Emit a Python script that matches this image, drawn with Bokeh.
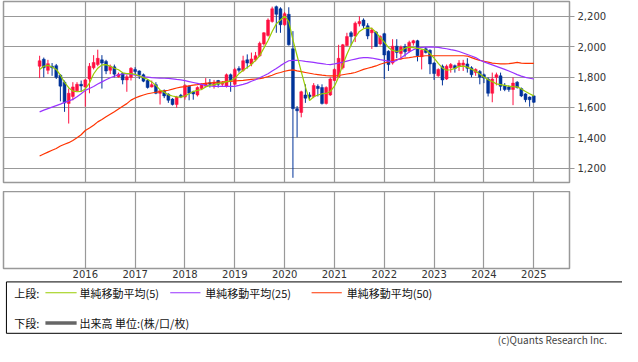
from bokeh.plotting import figure
from bokeh.layouts import column
from bokeh.models import Range1d, FixedTicker, ColumnDataSource, NumeralTickFormatter
from bokeh.embed import file_html
from bokeh.resources import INLINE
from bokeh.core.properties import value

# ---------------- data (monthly, Feb 2015 .. Jan 2025) ----------------
year_labels = ["2016", "2017", "2018", "2019", "2020", "2021", "2022", "2023", "2024", "2025"]
year_pos = [11, 23, 35, 47, 59, 71, 83, 95, 107, 119]   # month index of January
price_ticks = [1200, 1400, 1600, 1800, 2000, 2200]

opens = [1871, 1917, 1844, 1871, 1875, 1812, 1766, 1626, 1672, 1710,
         1752, 1735, 1787, 1861, 1882, 1913, 1903, 1844, 1867, 1802,
         1823, 1781, 1798, 1850, 1840, 1815, 1777, 1735, 1750, 1693,
         1710, 1687, 1655, 1619, 1680, 1668, 1739, 1703, 1682, 1724,
         1739, 1762, 1745, 1777, 1752, 1739, 1815, 1752, 1856, 1844,
         1913, 1886, 1913, 1940, 2018, 2074, 2165, 2263, 2249, 2144,
         2213, 1986, 1592, 1567, 1682, 1682, 1672, 1739, 1731, 1626,
         1682, 1777, 1798, 1861, 2007, 2091, 2070, 2150, 2175, 2137,
         2091, 2096, 2018, 2085, 1970, 1892, 2003, 1955, 2001, 1970,
         2024, 2039, 1934, 1986, 1976, 1892, 1808, 1871, 1787, 1861,
         1875, 1871, 1878, 1886, 1861, 1829, 1836, 1815, 1787, 1693,
         1798, 1808, 1745, 1735, 1718, 1766, 1724, 1689, 1668, 1676]
highs = [1940, 1928, 1913, 1892, 1886, 1819, 1777, 1724, 1766, 1766,
         1777, 1787, 1892, 1944, 1980, 1944, 1913, 1882, 1882, 1829,
         1829, 1815, 1865, 1865, 1844, 1823, 1787, 1777, 1766, 1714,
         1718, 1693, 1661, 1676, 1689, 1752, 1745, 1710, 1739, 1760,
         1793, 1787, 1781, 1781, 1773, 1823, 1823, 1861, 1871, 1940,
         1949, 1961, 1965, 2033, 2095, 2186, 2263, 2270, 2259, 2228,
         2259, 2102, 1609, 1710, 1752, 1700, 1760, 1752, 1752, 1739,
         1798, 1857, 2012, 2018, 2091, 2102, 2165, 2200, 2186, 2154,
         2125, 2102, 2075, 2091, 1976, 2049, 2049, 2007, 2018, 2039,
         2045, 2045, 1982, 1997, 1982, 1898, 1857, 1882, 1882, 1892,
         1882, 1911, 1913, 1924, 1871, 1857, 1846, 1823, 1798, 1829,
         1829, 1829, 1760, 1745, 1798, 1773, 1731, 1693, 1672, 1680]
lows = [1793, 1798, 1819, 1808, 1787, 1640, 1571, 1494, 1647, 1703,
        1703, 1605, 1693, 1850, 1871, 1724, 1819, 1819, 1798, 1796,
        1752, 1703, 1777, 1815, 1787, 1766, 1724, 1731, 1687, 1619,
        1661, 1630, 1613, 1598, 1661, 1651, 1647, 1651, 1672, 1714,
        1735, 1731, 1724, 1731, 1739, 1731, 1703, 1745, 1829, 1835,
        1856, 1871, 1903, 1934, 2007, 2066, 2158, 2091, 2091, 2137,
        2007, 1137, 1403, 1535, 1630, 1655, 1661, 1672, 1619, 1619,
        1676, 1773, 1794, 1850, 2003, 2007, 2030, 2133, 2123, 2049,
        1985, 1997, 2007, 1787, 1840, 1882, 1924, 1913, 1934, 1961,
        2007, 1903, 1850, 1955, 1819, 1781, 1802, 1745, 1781, 1829,
        1829, 1840, 1840, 1829, 1798, 1808, 1752, 1760, 1672, 1634,
        1745, 1710, 1707, 1703, 1615, 1724, 1668, 1634, 1605, 1630]
closes = [1907, 1861, 1888, 1861, 1798, 1740, 1630, 1693, 1735, 1752,
          1741, 1781, 1871, 1896, 1923, 1892, 1840, 1871, 1819, 1819,
          1781, 1802, 1857, 1836, 1815, 1773, 1731, 1750, 1693, 1710,
          1676, 1647, 1619, 1668, 1668, 1745, 1693, 1689, 1731, 1752,
          1760, 1752, 1766, 1752, 1762, 1815, 1777, 1850, 1844, 1907,
          1892, 1919, 1940, 2022, 2091, 2175, 2249, 2213, 2144, 2217,
          2012, 1592, 1578, 1703, 1661, 1670, 1745, 1724, 1626, 1731,
          1787, 1850, 1923, 2012, 2066, 2066, 2154, 2165, 2137, 2070,
          2110, 2001, 2066, 1945, 1882, 2003, 1961, 1997, 1966, 2028,
          2039, 1940, 1976, 1961, 1886, 1823, 1850, 1781, 1871, 1882,
          1857, 1892, 1892, 1857, 1815, 1850, 1798, 1794, 1693, 1787,
          1815, 1739, 1718, 1718, 1760, 1731, 1676, 1651, 1651, 1634]

ma5 = [1850, 1871, 1877, 1866, 1850, 1812, 1765, 1730, 1707, 1703,
       1705, 1722, 1760, 1820, 1858, 1880, 1882, 1871, 1858, 1848,
       1828, 1822, 1823, 1817, 1808, 1796, 1785, 1768, 1745, 1715,
       1700, 1683, 1675, 1670, 1668, 1675, 1690, 1705, 1712, 1718,
       1735, 1745, 1750, 1757, 1762, 1770, 1775, 1790, 1822, 1845,
       1862, 1884, 1910, 1940, 1990, 2040, 2100, 2150, 2175, 2200,
       2165, 2045, 1940, 1835, 1735, 1645, 1670, 1682, 1690, 1692,
       1705, 1740, 1800, 1880, 1950, 2010, 2060, 2100, 2118, 2123,
       2120, 2095, 2060, 2030, 1995, 1975, 1968, 1975, 1990, 1997,
       1994, 1988, 1984, 1978, 1955, 1925, 1890, 1860, 1845, 1848,
       1857, 1870, 1872, 1865, 1852, 1838, 1820, 1800, 1782, 1770,
       1755, 1750, 1745, 1740, 1737, 1735, 1722, 1705, 1690, 1676]
ma25 = [1571, 1582, 1592, 1602, 1612, 1622, 1633, 1642, 1653, 1670,
        1690, 1712, 1725, 1738, 1754, 1768, 1782, 1795, 1805, 1815,
        1820, 1822, 1819, 1812, 1806, 1802, 1799, 1796, 1794, 1793,
        1792, 1791, 1788, 1784, 1781, 1776, 1770, 1764, 1758, 1752,
        1745, 1741, 1739, 1739, 1739, 1739, 1739, 1739, 1745, 1752,
        1760, 1772, 1782, 1795, 1808, 1822, 1840, 1856, 1875, 1892,
        1907, 1910, 1910, 1907, 1903, 1900, 1896, 1892, 1888, 1884,
        1882, 1886, 1892, 1898, 1905, 1912, 1918, 1924, 1928, 1928,
        1925, 1920, 1914, 1910, 1905, 1900, 1910, 1925, 1945, 1965,
        1980, 1990, 1995, 1997, 1998, 1997, 1995, 1990, 1986, 1980,
        1975, 1968, 1958, 1948, 1938, 1928, 1912, 1900, 1890, 1880,
        1870, 1860, 1850, 1840, 1828, 1816, 1806, 1798, 1792, 1787]
ma50 = [1280, 1293, 1306, 1318, 1330, 1346, 1358, 1368, 1383, 1400,
        1420, 1448, 1465, 1483, 1505, 1520, 1538, 1555, 1572, 1590,
        1608, 1625, 1648, 1662, 1673, 1682, 1690, 1695, 1700, 1704,
        1709, 1713, 1720, 1728, 1733, 1737, 1742, 1747, 1750, 1755,
        1758, 1762, 1764, 1767, 1768, 1770, 1772, 1774, 1776, 1778,
        1781, 1784, 1787, 1790, 1795, 1803, 1812, 1823, 1830, 1838,
        1844, 1847, 1840, 1835, 1830, 1825, 1820, 1816, 1812, 1809,
        1807, 1808, 1810, 1815, 1820, 1824, 1830, 1840, 1850, 1858,
        1865, 1873, 1884, 1892, 1900, 1907, 1914, 1920, 1925, 1928,
        1932, 1935, 1938, 1940, 1940, 1940, 1940, 1940, 1940, 1940,
        1940, 1940, 1940, 1938, 1928, 1918, 1910, 1904, 1898, 1892,
        1889, 1886, 1886, 1888, 1892, 1896, 1892, 1890, 1890, 1890]

# ---------------- styling ----------------
RED = "#ff1040"
BLUE = "#003399"
GRID = "#999999"
JP = "Noto Sans CJK JP"

idx = list(range(len(opens)))
colors = [RED if c >= o else BLUE for o, c in zip(opens, closes)]
src = ColumnDataSource(dict(x=idx, o=opens, h=highs, l=lows, c=closes, col=colors,
                            m5=ma5, m25=ma25, m50=ma50))

xr = Range1d(-8.7, 127.6)

# ---------------- price panel ----------------
p = figure(frame_width=566, frame_height=181, x_range=xr, y_range=Range1d(1106, 2297),
           x_axis_location=None, y_axis_location="right", toolbar_location=None,
           output_backend="svg", min_border_left=3, min_border_right=53,
           min_border_top=1, min_border_bottom=9)
p.background_fill_color = "white"
p.border_fill_color = "white"
p.outline_line_color = GRID
p.outline_line_width = 1.5
p.xgrid.ticker = FixedTicker(ticks=year_pos)
p.ygrid.ticker = FixedTicker(ticks=price_ticks)
for g in (p.xgrid, p.ygrid):
    g.grid_line_color = GRID
    g.grid_line_width = 1.2
ax = p.yaxis[0]
ax.ticker = FixedTicker(ticks=price_ticks)
ax.formatter = NumeralTickFormatter(format="0,0")
ax.axis_line_color = None
ax.major_tick_in = 0
ax.major_tick_out = 5
ax.major_tick_line_color = GRID
ax.minor_tick_line_color = None
ax.major_label_standoff = 3
ax.major_label_text_font = "DejaVu Sans"
ax.major_label_text_font_size = "10px"
ax.major_label_text_color = "#333333"

p.segment(x0="x", y0="h", x1="x", y1="l", line_color="col", line_width=1, source=src)
p.vbar(x="x", width=0.7, top="o", bottom="c", fill_color="col", line_color="col",
       line_width=0.5, source=src)
p.line(x="x", y="m50", line_color="#ff3300", line_width=1.2, source=src)
p.line(x="x", y="m25", line_color="#9933ff", line_width=1.2, source=src)
p.line(x="x", y="m5", line_color="#99cc00", line_width=1.2, source=src)

# ---------------- volume panel (empty) ----------------
v = figure(frame_width=566, frame_height=77, x_range=xr, y_range=Range1d(0, 1),
           y_axis_location=None, toolbar_location=None, output_backend="svg",
           min_border_left=3, min_border_right=53, min_border_top=0, min_border_bottom=12)
v.background_fill_color = "white"
v.border_fill_color = "white"
v.outline_line_color = GRID
v.outline_line_width = 1.5
v.ygrid.visible = False
v.xgrid.ticker = FixedTicker(ticks=year_pos)
v.xgrid.grid_line_color = GRID
v.xgrid.grid_line_width = 1.2
xa = v.xaxis[0]
xa.ticker = FixedTicker(ticks=year_pos)
xa.major_label_overrides = {k: s for k, s in zip(year_pos, year_labels)}
xa.axis_line_color = None
xa.major_tick_line_color = None
xa.minor_tick_line_color = None
xa.major_tick_out = 0
xa.major_tick_in = 0
xa.major_label_standoff = 1
xa.major_label_text_font = "DejaVu Sans"
xa.major_label_text_font_size = "10px"
xa.major_label_text_color = "#333333"
v.scatter(x=[year_pos[0]], y=[-5], size=0, alpha=0)

# ---------------- legend / footer ----------------
lg = figure(frame_width=622, frame_height=66, x_range=Range1d(0, 638), y_range=Range1d(362, 292),
            x_axis_location=None, y_axis_location=None, toolbar_location=None,
            output_backend="svg", min_border=0)
lg.grid.visible = False
lg.outline_line_color = None
lg.background_fill_color = "white"
lg.border_fill_color = "white"
lg.quad(left=[3], right=[635], top=[293.5], bottom=[348], fill_color=None,
        line_color="#000000", line_width=1)
row1, row2 = 305, 337
lg.segment(x0=[43, 171, 316], y0=[row1] * 3, x1=[75, 202, 347], y1=[row1] * 3,
           line_color=["#99cc00", "#9933ff", "#ff3300"], line_width=1.2)
lg.segment(x0=[43], y0=[row2], x1=[75], y1=[row2], line_color="#666666", line_width=3.5)
lg.text(x=[11, 78, 207, 352, 11, 78], y=[row1, row1, row1, row1, row2, row2],
        text=["上段:", "単純移動平均(5)", "単純移動平均(25)", "単純移動平均(50)",
              "下段:", "出来高 単位:(株/口/枚)"],
        text_font=value(JP), text_font_size=value("11px"), text_color="#111111",
        text_baseline="middle", text_align="left")
lg.text(x=[619], y=[354.5], text=["(c)Quants Research Inc."], text_font=value(JP),
        text_font_size=value("10px"), text_color="#444444",
        text_baseline="middle", text_align="right")

layout = column(p, v, lg, spacing=0)
open("out.html", "w").write(file_html(layout, INLINE))
